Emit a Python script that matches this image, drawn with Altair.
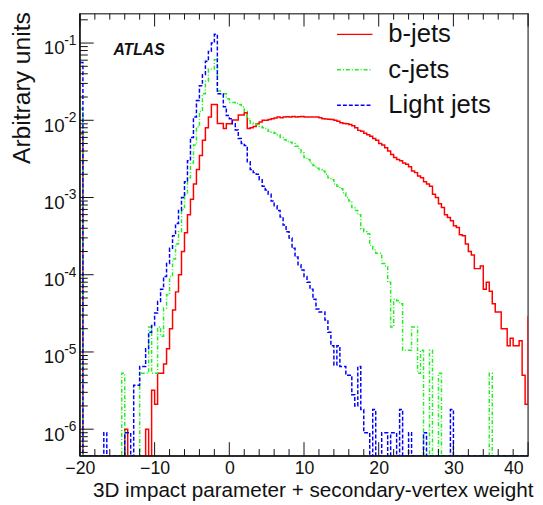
import altair as alt
import pandas as pd

# ---------------- data (bin contents) ----------------
BIN_START = -20.0
BIN_WIDTH = 0.4
series_names = ["b-jets", "c-jets", "Light jets"]
series_colors = ["#ff0000", "#22ee22", "#0000ff"]
series_dashes = [[1, 0], [4, 2, 1, 2], [4, 2]]

b_jets = ([0.0067] + [0.0] * 14 + [1.0e-6] + [0.0] * 6 + [1.0e-6, 0.0, 3.2e-6, 2.1e-6]
          + [5.3e-6, 5.3e-6, 7e-6, 1.1e-5, 2.0e-5, 3.5e-5, 6.0e-5, 1.0e-4, 2.0e-4, 3.5e-4,
             6.0e-4, 9.5e-4, 1.5e-3, 2.3e-3, 3.5e-3, 5.5e-3, 8.0e-3, 0.011, 0.016, 0.016]
          + [0.0091, 0.0091, 0.0078, 0.009, 0.009, 0.0101, 0.0101, 0.0117, 0.0117, 0.0125,
             0.0078, 0.0080, 0.0083, 0.0090, 0.0095, 0.0100, 0.0100, 0.0102, 0.0105, 0.0107,
             0.0110, 0.0108, 0.0110, 0.0111, 0.0110, 0.0112, 0.0110, 0.0111, 0.0112, 0.0110]
          + [0.011, 0.011, 0.011, 0.011, 0.0108, 0.0105, 0.0104, 0.0103, 0.0102, 0.0100,
             0.0097, 0.0093, 0.0091, 0.0090, 0.0088, 0.0085, 0.0080, 0.0074, 0.0072, 0.0068,
             0.0065, 0.0062, 0.0058, 0.0055, 0.0050, 0.0048, 0.0044, 0.0040, 0.0036, 0.0033,
             0.0031, 0.0030, 0.0028, 0.0027, 0.0025, 0.0022, 0.0021, 0.0019, 0.0018, 0.0016,
             0.0015, 0.0014, 0.0011, 0.0010, 8.3e-4, 7.4e-4, 6.0e-4, 5.5e-4, 5.0e-4, 4.3e-4,
             4.1e-4, 3.3e-4, 3.2e-4, 2.5e-4, 2.0e-4, 1.8e-4, 1.2e-4, 1.2e-4, 1.3e-4, 6.5e-5,
             8.0e-5, 6.1e-5, 4.2e-5, 3.3e-5, 3.3e-5, 2.0e-5, 2.0e-5, 1.2e-5, 1.5e-5, 1.2e-5,
             1.2e-5, 1.4e-5, 5.0e-6, 2.1e-6])

c_jets = ([0.014] + [0.0] * 13 + [5.3e-6] + [0.0] * 5
          + [5.3e-6, 5.3e-6, 5.3e-6, 2.1e-5, 5.3e-6, 5.3e-6, 2.1e-5, 1.6e-5, 3.7e-5, 5.5e-5]
          + [9.5e-5, 1.6e-4, 2.5e-4, 3.6e-4, 7e-4, 1.1e-3, 1.8e-3, 2.8e-3, 4.8e-3, 8.2e-3,
             0.013, 0.022, 0.032, 0.046, 0.046, 0.061]
          + [0.024, 0.022, 0.022, 0.019, 0.017, 0.017, 0.0165, 0.016, 0.015, 0.013,
             0.0105, 0.0092, 0.0090, 0.0088, 0.0083, 0.0080, 0.0078, 0.0072, 0.0070, 0.0068,
             0.0065, 0.0060, 0.0056, 0.0053, 0.0052, 0.0050, 0.0046, 0.0043, 0.0038, 0.0033,
             0.0031, 0.0028, 0.0026, 0.0024, 0.0023, 0.0022, 0.0020, 0.0018, 0.0017, 0.0015,
             0.0014, 0.0013, 0.00115, 0.0010, 9.0e-4, 7.4e-4, 6.8e-4, 6.0e-4, 3.9e-4, 3.6e-4,
             3.4e-4, 2.4e-4, 2.1e-4, 1.9e-4, 1.9e-4, 1.4e-4, 1.3e-4, 8e-5]
          + [2.1e-5, 4.8e-5, 4.6e-5, 4.2e-5, 1.05e-5, 1.05e-5, 1.05e-5, 2.1e-5, 2.1e-5, 5.3e-6,
             1.05e-5, 0.0, 0.0, 1.05e-5, 0.0, 0.0, 5.3e-6]
          + [0.0] * 16 + [5.3e-6] + [0.0] * 12)

light_jets = ([0.056] + [0.0] * 7 + [9e-7] + [0.0] * 6 + [9e-7, 9e-7, 0.0]
              + [3.7e-6, 3.7e-6, 6.5e-6, 6.5e-6]
              + [1.1e-5, 1.8e-5, 2.2e-5, 3.2e-5, 4.5e-5, 6.5e-5, 9.5e-5, 1.4e-4, 2.2e-4, 3.2e-4,
                 4.6e-4, 6.8e-4, 1.0e-3, 1.6e-3, 3.0e-3, 6.0e-3, 1.1e-2, 1.8e-2, 2.8e-2, 3.9e-2,
                 5.8e-2, 7.8e-2, 0.10, 0.13]
              + [0.022, 0.022, 0.015, 0.0115, 0.0105, 0.009, 0.0075, 0.0058, 0.0050, 0.0047,
                 0.0029]
              + [2.3e-3, 2.1e-3, 2.0e-3, 1.7e-3, 1.4e-3, 1.25e-3, 1.1e-3, 9.0e-4, 7.8e-4, 6.8e-4,
                 5.6e-4, 4.4e-4, 3.6e-4, 3.0e-4, 2.2e-4, 1.7e-4, 1.35e-4, 1.15e-4, 9.5e-5, 8.0e-5,
                 6.5e-5, 4.8e-5, 3.6e-5, 3.3e-5, 3.3e-5, 2.6e-5, 1.8e-5, 1.2e-5, 6.8e-6, 1.2e-5,
                 6.5e-6, 6.5e-6, 5.0e-6, 5.0e-6, 2.8e-6, 2.0e-6, 6.5e-6, 1.8e-6, 9e-7, 9e-7]
              + [0.0, 1.8e-6, 0.0, 0.0, 9e-7, 9e-7, 0.0, 9e-7, 9e-7, 0.0, 1.8e-6, 0.0, 0.0, 9e-7]
              + [0.0] * 4 + [9e-7] + [0.0] * 8 + [1.8e-6] + [0.0] * 25)

overflow = [2.9e-5, 0.0, 0.0]

x_major = [-20, -10, 0, 10, 20, 30, 40]
x_minor = [-18, -16, -14, -12, -8, -6, -4, -2, 2, 4, 6, 8, 12, 14, 16, 18,
           22, 24, 26, 28, 32, 34, 36, 38]
y_major = [1e-6, 1e-5, 1e-4, 1e-3, 1e-2, 1e-1]
y_exponent = ["-6", "-5", "-4", "-3", "-2", "-1"]
y_minor = [m * 10.0 ** e for e in range(-7, 0) for m in range(2, 10)]

Y_MIN, Y_MAX = 4.5e-7, 0.24
X_MIN, X_MAX = -20, 40
W, H = 455, 449
FONT = "Liberation Sans"

y_minor = [v for v in y_minor if Y_MIN < v < Y_MAX]

# ---------------- table for the step histograms ----------------
rows = []
for name, vals, ov in zip(series_names, [b_jets, c_jets, light_jets], overflow):
    for i, v in enumerate(vals):
        rows.append({"series": name, "idx": i, "x": BIN_START + BIN_WIDTH * i,
                     "y": v if v > 0 else Y_MIN})
    rows.append({"series": name, "idx": len(vals), "x": BIN_START + BIN_WIDTH * len(vals),
                 "y": ov if ov > 0 else Y_MIN})
df = pd.DataFrame(rows)

xscale = alt.Scale(domain=[X_MIN, X_MAX], nice=False, zero=False)
yscale = alt.Scale(type="log", domain=[Y_MIN, Y_MAX], nice=False)

xaxis = alt.Axis(values=x_major, ticks=False, domain=False, grid=False, labelFlush=False,
                 labelAlign={"condition": {"test": f"datum.value == {X_MAX}", "value": "right"},
                             "value": "center"},
                 labelOffset={"condition": {"test": f"datum.value == {X_MAX}", "value": -5},
                              "value": 0},
                 labelFontSize=18, labelPadding=4, labelFont=FONT, labelColor="#111",
                 title="3D impact parameter + secondary-vertex weight",
                 titleFont=FONT, titleFontSize=21, titleFontWeight="normal",
                 titleColor="#111", titleAlign="right", titleAnchor="end",
                 titleX=W + 5, titleY=41, titleBaseline="alphabetic")
yaxis = alt.Axis(values=y_major, ticks=False, domain=False, grid=False, labelFlush=False,
                 labelExpr="'10'", labelFontSize=19, labelPadding=16,
                 labelFont=FONT, labelColor="#111", labelBaseline="alphabetic",
                 labelOffset=11,
                 title="Arbitrary units", titleFont=FONT, titleFontSize=25,
                 titleFontWeight="normal", titleColor="#111", titleAngle=-90,
                 titleAlign="right", titleAnchor="end", titleX=-51, titleY=-2,
                 titleBaseline="alphabetic")

lines = alt.Chart(df).mark_line(interpolate="step-after", clip=True, strokeWidth=1.5).encode(
    x=alt.X("x:Q", scale=xscale, axis=xaxis),
    y=alt.Y("y:Q", scale=yscale, axis=yaxis),
    color=alt.Color("series:N", scale=alt.Scale(domain=series_names, range=series_colors),
                    title=None),
    strokeDash=alt.StrokeDash("series:N",
                              scale=alt.Scale(domain=series_names, range=series_dashes),
                              title=None),
    order="idx:Q",
)

def rules_x(vals, y0, y1):
    return alt.Chart(pd.DataFrame({"x": vals})).mark_rule(color="#111", strokeWidth=1).encode(
        x=alt.X("x:Q", scale=xscale, axis=xaxis), y=alt.value(y0), y2=alt.value(y1))

def rules_y(vals, x0, x1):
    return alt.Chart(pd.DataFrame({"y": vals})).mark_rule(color="#111", strokeWidth=1).encode(
        y=alt.Y("y:Q", scale=yscale, axis=yaxis), x=alt.value(x0), x2=alt.value(x1))

ticks = [
    rules_x(x_major, H, H - 14), rules_x(x_minor, H, H - 7),
    rules_x(x_major, 0, 13), rules_x(x_minor, 0, 6),
    rules_y(y_major, 0, 14), rules_y(y_minor, 0, 8),
]

frame = alt.Chart(pd.DataFrame({"v": [0]})).mark_rule(color="#111", strokeWidth=1.5).encode(
    x=alt.value(0), x2=alt.value(W), y=alt.value(H))
frame_l = alt.Chart(pd.DataFrame({"v": [0]})).mark_rule(color="#111", strokeWidth=1.5).encode(
    x=alt.value(0), y=alt.value(0), y2=alt.value(H))

exps = alt.Chart(pd.DataFrame({"y": y_major, "e": y_exponent})).mark_text(
    align="left", baseline="alphabetic", dx=0, dy=2, fontSize=14, font=FONT, color="#111"
).encode(x=alt.value(-16), y=alt.Y("y:Q", scale=yscale, axis=yaxis), text="e:N")

atlas = alt.Chart(pd.DataFrame({"t": ["ATLAS"]})).mark_text(
    align="left", baseline="alphabetic", fontSize=16, fontStyle="italic", fontWeight="bold",
    font=FONT, color="#111"
).encode(x=alt.value(34), y=alt.value(42), text="t:N")

chart = alt.layer(lines, *ticks, frame, frame_l, exps, atlas).properties(
    width=W, height=H,
    autosize=alt.AutoSizeParams(type="none"),
    padding={"left": 73, "top": 2, "right": 7, "bottom": 46},
).configure_view(stroke="#555", strokeWidth=1.5).configure_legend(
    orient="none", legendX=260, legendY=2, symbolType="stroke", symbolSize=1296,
    symbolStrokeWidth=1.5, labelFontSize=26, labelFont=FONT, labelColor="#111",
    labelOffset=15, padding=0, rowPadding=4, symbolOffset=0,
)

chart.save("out.html", embed_options={"renderer": "svg", "actions": False})
